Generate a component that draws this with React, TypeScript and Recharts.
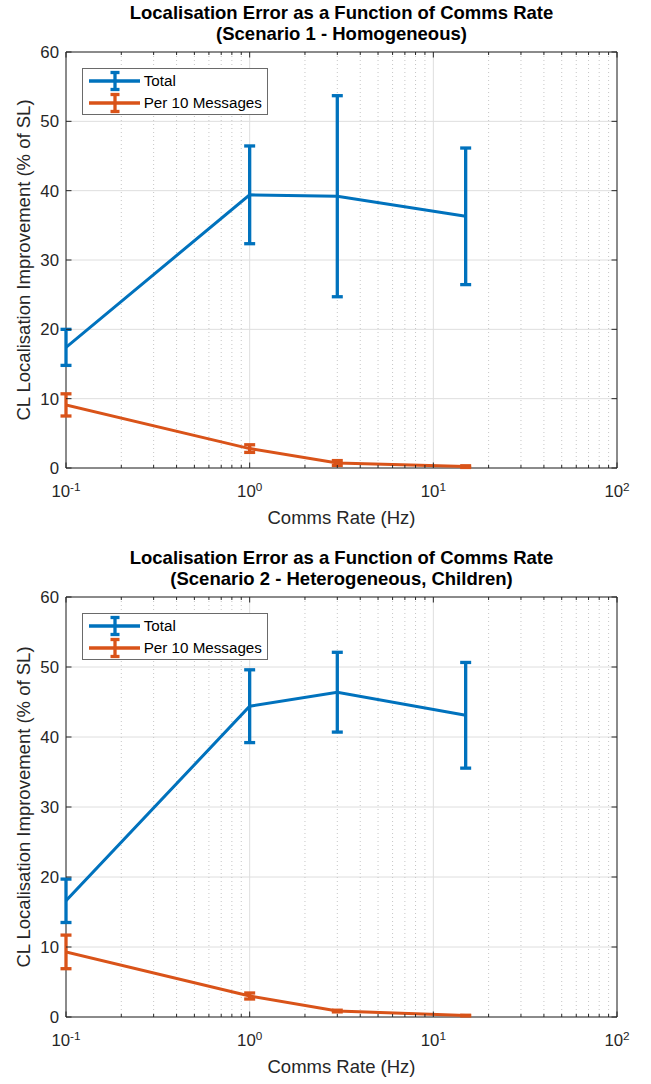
import React from "react";
import { CartesianGrid, ErrorBar, Line, LineChart, ReferenceArea, XAxis, YAxis } from "recharts";

// comms rates (Hz) the runs were done at
const rates = [0.1, 1, 3, 15];

// scenario 1 - homogeneous
const s1Total = [17.4, 39.4, 39.2, 36.3];
const s1TotalErr = [2.6, 7.05, 14.5, 9.85];
const s1Per10 = [9.1, 2.8, 0.72, 0.2];
const s1Per10Err = [1.6, 0.55, 0.35, 0.12];

// scenario 2 - heterogeneous, children
const s2Total = [16.6, 44.4, 46.4, 43.1];
const s2TotalErr = [3.1, 5.2, 5.7, 7.55];
const s2Per10 = [9.3, 3.0, 0.85, 0.2];
const s2Per10Err = [2.4, 0.43, 0.12, 0.05];

const xMajor = [0.1, 1, 10, 100];
const xMinor = [
  0.2, 0.3, 0.4, 0.5, 0.6, 0.7, 0.8, 0.9,
  2, 3, 4, 5, 6, 7, 8, 9,
  20, 30, 40, 50, 60, 70, 80, 90,
];
const yTicks = [0, 10, 20, 30, 40, 50, 60];

const BLUE = "#0072BD";
const ORANGE = "#D95319";
const AXIS = "#262626";
const FONT = "'Liberation Sans', Arial, Helvetica, sans-serif";

const PLOT_TOP = 52;
const PLOT_LEFT = 66;
const PLOT_RIGHT = 617;
const PLOT_W = PLOT_RIGHT - PLOT_LEFT;

function LegendBox() {
  const item = (color: string, label: string, cy: number) => (
    <div style={{ position: "absolute", left: 0, top: cy - 11, height: 22, width: 186 }}>
      <svg width={60} height={22} style={{ position: "absolute", left: 0, top: 0 }}>
        <line x1={6} x2={57} y1={11} y2={11} stroke={color} strokeWidth={3.3} />
        <line x1={32} x2={32} y1={2.5} y2={19.5} stroke={color} strokeWidth={3.3} />
        <line x1={27.5} x2={36.5} y1={2.5} y2={2.5} stroke={color} strokeWidth={3.3} />
        <line x1={27.5} x2={36.5} y1={19.5} y2={19.5} stroke={color} strokeWidth={3.3} />
      </svg>
      <span style={{ position: "absolute", left: 61, top: 1, fontSize: 15.2, lineHeight: "20px", color: "#000" }}>
        {label}
      </span>
    </div>
  );
  return (
    <div
      style={{
        position: "absolute",
        left: PLOT_LEFT + 15.7,
        top: PLOT_TOP + 15.7,
        width: 186,
        height: 47,
        background: "#fff",
        border: "1px solid #6a6a6a",
        boxSizing: "border-box",
      }}
    >
      {item(BLUE, "Total", 12.5)}
      {item(ORANGE, "Per 10 Messages", 34)}
    </div>
  );
}

interface PanelProps {
  top: number;
  height: number;
  plotBottom: number;
  titleLines: string[];
  total: number[];
  totalErr: number[];
  per10: number[];
  per10Err: number[];
}

function Panel({ top, height, plotBottom, titleLines, total, totalErr, per10, per10Err }: PanelProps) {
  const plotH = plotBottom - PLOT_TOP;
  const data = rates.map((r, i) => ({
    rate: r,
    total: total[i],
    totalErr: totalErr[i],
    per10: per10[i],
    per10Err: per10Err[i],
  }));

  const XTick = (props: any) => {
    const { x, y, payload } = props;
    const v = payload.value;
    const major = xMajor.includes(v);
    const len = major ? 5.5 : 3;
    return (
      <g>
        <line x1={x} x2={x} y1={y} y2={y - len} stroke={AXIS} strokeWidth={1} />
        <line x1={x} x2={x} y1={y - plotH} y2={y - plotH + len} stroke={AXIS} strokeWidth={1} />
        {major && (
          <text x={x} y={y + 29.4} textAnchor="middle" fontSize={16.8} fill={AXIS} fontFamily={FONT}>
            10
            <tspan dy={-6.5} fontSize={11.8}>
              {Math.round(Math.log10(v))}
            </tspan>
          </text>
        )}
      </g>
    );
  };

  const YTick = (props: any) => {
    const { x, y, payload } = props;
    return (
      <g>
        <line x1={x} x2={x + 5.5} y1={y} y2={y} stroke={AXIS} strokeWidth={1} />
        <line x1={x + PLOT_W} x2={x + PLOT_W - 5.5} y1={y} y2={y} stroke={AXIS} strokeWidth={1} />
        <text x={x - 7} y={y} dy="0.36em" textAnchor="end" fontSize={16.8} fill={AXIS} fontFamily={FONT}>
          {payload.value}
        </text>
      </g>
    );
  };

  return (
    <div style={{ position: "absolute", left: 0, top, width: 651, height }}>
      <div
        style={{
          position: "absolute",
          left: PLOT_LEFT,
          width: PLOT_W,
          top: 1.5,
          textAlign: "center",
          fontWeight: "bold",
          fontSize: 18.5,
          lineHeight: "21px",
          color: "#000",
        }}
      >
        {titleLines.map((t) => (
          <div key={t}>{t}</div>
        ))}
      </div>
      <LineChart
        width={651}
        height={height}
        data={data}
        margin={{ top: PLOT_TOP, right: 651 - PLOT_RIGHT, bottom: 0, left: 0 }}
      >
        <CartesianGrid horizontal vertical verticalValues={xMajor} stroke="#dedede" strokeWidth={1} />
        <CartesianGrid
          horizontal={false}
          vertical
          verticalValues={xMinor}
          stroke="#c6c6c6"
          strokeDasharray="1 3"
          strokeWidth={1}
        />
        <XAxis
          type="number"
          dataKey="rate"
          scale="log"
          domain={[0.1, 100]}
          allowDataOverflow
          ticks={[...xMajor, ...xMinor]}
          interval={0}
          height={height - plotBottom}
          tickSize={0}
          tickMargin={0}
          axisLine={false}
          tickLine={false}
          tick={XTick}
        />
        <YAxis
          type="number"
          domain={[0, 60]}
          ticks={yTicks}
          interval={0}
          width={PLOT_LEFT}
          tickSize={0}
          tickMargin={0}
          axisLine={false}
          tickLine={false}
          tick={YTick}
        />
        <ReferenceArea x1={0.1} x2={100} y1={0} y2={60} fill="none" fillOpacity={0} stroke={AXIS} strokeWidth={1} />
        <Line
          dataKey="total"
          stroke={BLUE}
          strokeWidth={3}
          dot={false}
          isAnimationActive={false}
        >
          <ErrorBar dataKey="totalErr" direction="y" width={5.5} stroke={BLUE} strokeWidth={3.3} />
        </Line>
        <Line
          dataKey="per10"
          stroke={ORANGE}
          strokeWidth={3}
          dot={false}
          isAnimationActive={false}
        >
          <ErrorBar dataKey="per10Err" direction="y" width={5.5} stroke={ORANGE} strokeWidth={3.3} />
        </Line>
      </LineChart>
      <LegendBox />
      <div
        style={{
          position: "absolute",
          left: PLOT_LEFT + PLOT_W / 2,
          top: plotBottom + 50,
          transform: "translate(-50%, -50%)",
          fontSize: 18.5,
          color: AXIS,
          whiteSpace: "nowrap",
        }}
      >
        Comms Rate (Hz)
      </div>
      <div
        style={{
          position: "absolute",
          left: 24,
          top: (PLOT_TOP + plotBottom) / 2,
          transform: "translate(-50%, -50%) rotate(-90deg)",
          fontSize: 18.5,
          color: AXIS,
          whiteSpace: "nowrap",
        }}
      >
        CL Localisation Improvement (% of SL)
      </div>
    </div>
  );
}

export default function App() {
  return (
    <div
      style={{
        position: "absolute",
        left: 0,
        top: 0,
        width: 651,
        height: 1084,
        background: "#fff",
        fontFamily: FONT,
      }}
    >
      <Panel
        top={0}
        height={545}
        plotBottom={468}
        titleLines={["Localisation Error as a Function of Comms Rate", "(Scenario 1 - Homogeneous)"]}
        total={s1Total}
        totalErr={s1TotalErr}
        per10={s1Per10}
        per10Err={s1Per10Err}
      />
      <Panel
        top={545}
        height={539}
        plotBottom={472}
        titleLines={["Localisation Error as a Function of Comms Rate", "(Scenario 2 - Heterogeneous, Children)"]}
        total={s2Total}
        totalErr={s2TotalErr}
        per10={s2Per10}
        per10Err={s2Per10Err}
      />
    </div>
  );
}
